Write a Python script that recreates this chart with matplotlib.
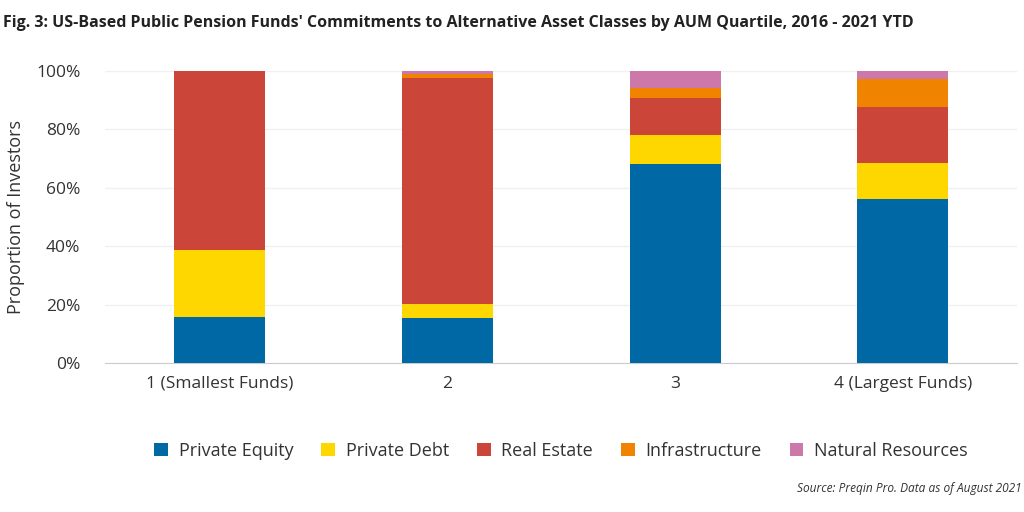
import matplotlib
matplotlib.use("Agg")
import matplotlib.pyplot as plt
import numpy as np

plt.rcParams['font.family'] = ['Open Sans', 'DejaVu Sans']

categories = ["1 (Smallest Funds)", "2", "3", "4 (Largest Funds)"]
series_names = ["Private Equity", "Private Debt", "Real Estate", "Infrastructure", "Natural Resources"]
private_equity = [15.8, 15.4, 68.2, 56.2]
private_debt = [22.9, 4.8, 9.8, 12.3]
real_estate = [61.3, 77.2, 12.8, 18.9]
infrastructure = [0.0, 1.6, 3.4, 9.9]
natural_resources = [0.0, 1.0, 5.8, 2.7]
colors = ["#0068a5", "#ffd700", "#cb4639", "#f08300", "#cc78a9"]

fig = plt.figure(figsize=(10.24, 5.12), dpi=100)
ax = fig.add_axes([0.103, 0.291, 0.89, 0.571])

x = np.arange(len(categories))
bottom = np.zeros(len(categories))
for name, vals, c in zip(series_names,
                         [private_equity, private_debt, real_estate, infrastructure, natural_resources],
                         colors):
    ax.bar(x, vals, width=0.4, bottom=bottom, color=c, label=name, zorder=3)
    bottom += np.array(vals)

ax.set_xlim(-0.5, 3.5)
ax.set_ylim(0, 100)
ax.set_yticks([0, 20, 40, 60, 80, 100])
ax.set_yticklabels([f"{v}%" for v in range(0, 101, 20)])
ax.set_xticks(x)
ax.set_xticklabels(categories)
ax.tick_params(axis='both', length=0, labelsize=12.5, colors="#333333")
ax.tick_params(axis='y', pad=18)
ax.tick_params(axis='x', pad=9)
ax.grid(axis='y', color="#f0f0f0", linewidth=1, zorder=0)
for s in ["top", "right", "left"]:
    ax.spines[s].set_visible(False)
ax.spines["bottom"].set_color("#cccccc")
ax.set_ylabel("Proportion of Investors", fontsize=13, color="#333333", labelpad=8)

fig.text(0.003, 0.955, "Fig. 3: US-Based Public Pension Funds' Commitments to Alternative Asset Classes by AUM Quartile, 2016 - 2021 YTD",
         fontsize=11.5, fontweight="bold", color="#222222", va="center")

ax.legend(loc="upper center", bbox_to_anchor=(0.5, -0.215), ncol=5, frameon=False,
          fontsize=13, handlelength=0.75, handleheight=0.75, columnspacing=1.55,
          handletextpad=0.6, labelcolor="#333333")

fig.text(0.998, 0.045, "Source: Preqin Pro. Data as of August 2021", fontsize=8.6,
         style="italic", ha="right", va="center", color="#333333")

fig.savefig("out.png", dpi=100)
